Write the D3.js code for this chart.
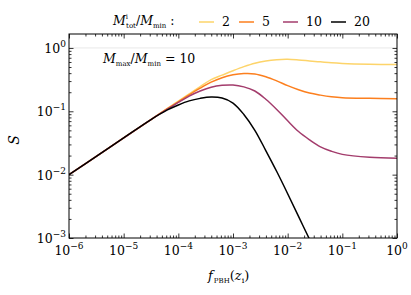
<!DOCTYPE html>
<html>
<head>
<meta charset="utf-8">
<script src="https://cdn.jsdelivr.net/npm/d3@7"></script>
<style>
body { margin: 0; background: #fff; }
</style>
</head>
<body>
<svg width="411" height="295"></svg>
<script>
// f_PBH(z_i) sample points (shared by all curves)
const fGrid = [1e-6, 3.16e-6, 1e-5, 3.16e-5, 6.31e-5, 1e-4, 1.58e-4, 2.51e-4, 3.98e-4, 6.31e-4,
  1e-3, 1.58e-3, 2.51e-3, 3.98e-3, 6.31e-3, 1e-2, 1.58e-2, 2.51e-2, 3.98e-2, 6.31e-2, 0.1, 0.316, 1];

// S, one array per M_tot^i/M_min
const s2  = [0.0100, 0.0195, 0.0380, 0.0741, 0.111, 0.1445, 0.188, 0.245, 0.316, 0.372,
  0.437, 0.507, 0.575, 0.624, 0.653, 0.661, 0.646, 0.624, 0.603, 0.582, 0.569, 0.553, 0.546];
const s5  = [0.0100, 0.0195, 0.0380, 0.0741, 0.110, 0.141, 0.182, 0.232, 0.288, 0.339,
  0.376, 0.394, 0.389, 0.351, 0.302, 0.254, 0.219, 0.194, 0.180, 0.170, 0.164, 0.160, 0.158];
const s10 = [0.0100, 0.0195, 0.0380, 0.0741, 0.108, 0.138, 0.174, 0.209, 0.240, 0.257,
  0.260, 0.243, 0.209, 0.155, 0.107, 0.0708, 0.0479, 0.0355, 0.0275, 0.0234, 0.0209, 0.0188, 0.0182];
const s20 = [0.0100, 0.0195, 0.0380, 0.0741, 0.105, 0.126, 0.146, 0.160, 0.168, 0.162,
  0.135, 0.0891, 0.0501, 0.0240, 0.0112, 0.0050, 0.00219, 0.000955];

const ratios = ['2', '5', '10', '20'];
const colors = ['#fdd46a', '#fc7f1e', '#a33c6c', '#000000'];
const seriesS = [s2, s5, s10, s20];

const xMajor = [-6, -5, -4, -3, -2, -1, 0];
const yMajor = [-3, -2, -1, 0];

const svg = d3.select('svg');
const L = 69, R = 397, T = 34, B = 238;

const x = d3.scaleLog().domain([1e-6, 1]).range([L, R]);
const y = d3.scaleLog().domain([1e-3, 1.66]).range([B, T]);

svg.append('clipPath').attr('id', 'clip')
  .append('rect').attr('x', L).attr('y', T).attr('width', R - L).attr('height', B - T);

// gridline at S = 1
svg.append('line')
  .attr('x1', L).attr('x2', R).attr('y1', y(1)).attr('y2', y(1))
  .attr('stroke', '#e8e8e8').attr('stroke-width', 1);

const line = d3.line()
  .curve(d3.curveCatmullRom.alpha(0.5))
  .x(d => x(d[0]))
  .y(d => y(d[1]));

const plot = svg.append('g').attr('clip-path', 'url(#clip)');
seriesS.forEach(function(s, i) {
  plot.append('path')
    .datum(s.map((v, j) => [fGrid[j], v]))
    .attr('d', line)
    .attr('fill', 'none')
    .attr('stroke', colors[i])
    .attr('stroke-width', 1.5);
});

// ticks, inward on all four sides
function minors(lo, hi) {
  let out = [];
  for (let e = lo; e < hi; e++)
    for (let k = 2; k <= 9; k++) out.push(k * Math.pow(10, e));
  return out;
}
const xMin = minors(-6, 0);
const yMin = minors(-3, 0);

function ticks(axis, scale, pos, vals, len) {
  svg.append('g')
    .attr('transform', pos)
    .call(axis(scale).tickValues(vals).tickSize(len).tickFormat(''))
    .call(g => g.select('.domain').remove())
    .selectAll('line').attr('stroke', '#000').attr('stroke-width', 0.8);
}
const xMajV = xMajor.map(e => Math.pow(10, e));
const yMajV = yMajor.map(e => Math.pow(10, e));
ticks(d3.axisBottom, x, `translate(0,${B})`, xMajV, -4.5);
ticks(d3.axisBottom, x, `translate(0,${B})`, xMin, -2.5);
ticks(d3.axisTop, x, `translate(0,${T})`, xMajV, -4.5);
ticks(d3.axisTop, x, `translate(0,${T})`, xMin, -2.5);
ticks(d3.axisLeft, y, `translate(${L},0)`, yMajV, -4.5);
ticks(d3.axisLeft, y, `translate(${L},0)`, yMin, -2.5);
ticks(d3.axisRight, y, `translate(${R},0)`, yMajV, -4.5);
ticks(d3.axisRight, y, `translate(${R},0)`, yMin, -2.5);

svg.append('rect')
  .attr('x', L).attr('y', T).attr('width', R - L).attr('height', B - T)
  .attr('fill', 'none').attr('stroke', '#000').attr('stroke-width', 1);

const serif = 'DejaVu Serif';
function txt(xp, yp, size) {
  return svg.append('text').attr('x', xp).attr('y', yp)
    .attr('font-size', size).attr('font-family', serif).attr('fill', '#000');
}

// tick labels 10^n
function powLabel(g, e) {
  g.append('tspan').text('10');
  g.append('tspan').attr('dy', -6).attr('font-size', 9)
    .text(e < 0 ? '\u2212' + (-e) : String(e));
}
xMajor.forEach(function(e) {
  const t = txt(x(Math.pow(10, e)), 255, 12.5).attr('text-anchor', 'middle');
  powLabel(t, e);
});
yMajor.forEach(function(e) {
  const t = txt(66, y(Math.pow(10, e)) + 5, 12.5).attr('text-anchor', 'end');
  powLabel(t, e);
});

// axis labels
txt(0, 0, 14)
  .attr('transform', 'translate(19,140) rotate(-90)')
  .attr('text-anchor', 'middle')
  .attr('font-style', 'italic').text('S');

const xl = txt(208, 280, 13);
xl.append('tspan').attr('font-style', 'italic').text('f');
xl.append('tspan').attr('font-size', 7).attr('dy', 3).attr('dx', 1).text('PBH');
xl.append('tspan').attr('dy', -3).text('(');
xl.append('tspan').attr('font-style', 'italic').text('z');
xl.append('tspan').attr('font-size', 8).attr('dy', 3).text('i');
xl.append('tspan').attr('dy', -3).text(')');

// annotation
const an = txt(103, 63, 12.5);
an.append('tspan').attr('font-style', 'italic').text('M');
an.append('tspan').attr('font-size', 7).attr('dy', 3).text('max');
an.append('tspan').attr('dy', -3).text('/');
an.append('tspan').attr('font-style', 'italic').text('M');
an.append('tspan').attr('font-size', 7).attr('dy', 3).text('min');
an.append('tspan').attr('dy', -3).text(' = 10');

// legend
const lg = txt(113, 25, 12.5);
lg.append('tspan').attr('font-style', 'italic').text('M');
lg.append('tspan').attr('font-size', 7).attr('dy', -6).text('i');
lg.append('tspan').attr('font-size', 7).attr('dy', 9).attr('dx', -2).text('tot');
lg.append('tspan').attr('dy', -3).text('/');
lg.append('tspan').attr('font-style', 'italic').text('M');
lg.append('tspan').attr('font-size', 7).attr('dy', 3).text('min');
lg.append('tspan').attr('dy', -3).text(' :');

const legX = [199, 239, 283, 331];
ratios.forEach(function(r, i) {
  svg.append('line')
    .attr('x1', legX[i]).attr('x2', legX[i] + 15).attr('y1', 22).attr('y2', 22)
    .attr('stroke', colors[i]).attr('stroke-width', 1.5);
  txt(legX[i] + 23, 26, 12.5).text(r);
});
</script>
</body>
</html>
